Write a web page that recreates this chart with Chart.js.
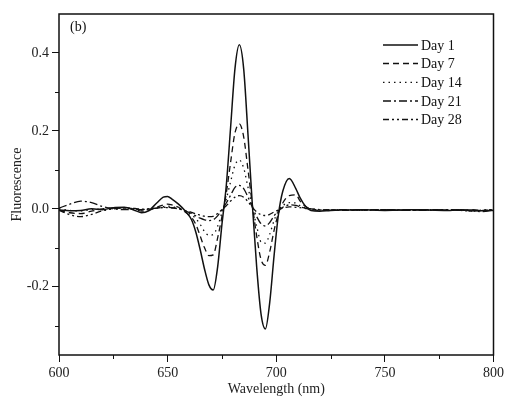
<!DOCTYPE html>
<html>
<head>
<meta charset="utf-8">
<script src="https://cdn.jsdelivr.net/npm/chart.js@4/dist/chart.umd.min.js"></script>
<style>
  html, body { margin: 0; padding: 0; background: #fff; }
  #wrap { width: 507px; height: 399px; }
</style>
</head>
<body>
<div id="wrap"><canvas id="fluoChart" width="507" height="399"></canvas></div>
<script>
// ── 資料 ───────────────────────────────────────────────
const WAVELENGTHS = [
  600, 605, 610, 615, 620, 625, 630, 635, 638, 641, 645, 648, 650, 652, 655,
  658, 661, 663, 665, 667, 669, 671, 673, 675, 677, 679, 681, 683, 685, 687,
  689, 691, 693, 695, 697, 699, 701, 703, 706, 709, 711, 713,
  716, 720, 725, 730, 740, 750, 760, 770, 780, 785, 790, 795, 800,
];

const DAY1 = [
  -0.003, -0.005, -0.004, 0.000, -0.002, 0.003, 0.004, -0.004, -0.010, -0.006, 0.015, 0.030, 0.032, 0.025, 0.012,
  -0.005, -0.028, -0.060, -0.105, -0.155, -0.195, -0.208, -0.150, -0.040, 0.060, 0.210, 0.360, 0.421, 0.360, 0.190,
  0.010, -0.150, -0.270, -0.308, -0.240, -0.120, -0.015, 0.045, 0.078, 0.052, 0.028, 0.010,
  -0.004, -0.006, -0.004, -0.003, -0.002, -0.004, -0.002, -0.003, -0.004, -0.002, -0.003, -0.005, -0.004,
];

const DAY7 = [
  -0.004, -0.010, -0.012, -0.006, 0.000, 0.002, 0.003, -0.002, -0.006, -0.004, 0.004, 0.010, 0.012, 0.010, 0.004,
  -0.008, -0.022, -0.040, -0.070, -0.100, -0.120, -0.118, -0.075, -0.020, 0.040, 0.120, 0.195, 0.218, 0.185, 0.100,
  0.010, -0.070, -0.130, -0.145, -0.110, -0.055, -0.012, 0.015, 0.034, 0.036, 0.020, 0.008,
  0.000, -0.004, -0.003, -0.004, -0.002, -0.003, -0.004, -0.002, -0.003, -0.004, -0.002, -0.004, -0.003,
];

const DAY14 = [
  0.000, -0.004, -0.005, -0.002, 0.000, 0.002, 0.002, 0.000, -0.003, -0.002, 0.003, 0.006, 0.007, 0.005, 0.002,
  -0.006, -0.015, -0.025, -0.040, -0.058, -0.068, -0.066, -0.045, -0.010, 0.025, 0.070, 0.112, 0.125, 0.105, 0.055,
  0.005, -0.045, -0.085, -0.088, -0.065, -0.030, -0.005, 0.008, 0.016, 0.015, 0.008, 0.003,
  0.000, -0.003, -0.002, -0.003, -0.004, -0.002, -0.003, -0.002, -0.004, -0.003, -0.006, -0.004, -0.002,
];

const DAY21 = [
  0.002, 0.012, 0.020, 0.016, 0.006, 0.000, -0.002, -0.001, -0.002, 0.000, 0.002, 0.004, 0.004, 0.003, 0.000,
  -0.005, -0.012, -0.018, -0.024, -0.028, -0.030, -0.028, -0.018, -0.002, 0.015, 0.035, 0.055, 0.060, 0.052, 0.030,
  0.004, -0.020, -0.038, -0.044, -0.035, -0.018, -0.005, 0.004, 0.010, 0.009, 0.005, 0.002,
  0.000, -0.002, -0.003, -0.002, -0.003, -0.002, -0.003, -0.004, -0.002, -0.003, -0.005, -0.007, -0.003,
];

const DAY28 = [
  -0.004, -0.015, -0.020, -0.014, -0.005, 0.000, 0.002, 0.001, -0.001, 0.000, 0.002, 0.003, 0.003, 0.002, 0.000,
  -0.004, -0.009, -0.013, -0.016, -0.019, -0.020, -0.019, -0.012, -0.002, 0.008, 0.020, 0.030, 0.034, 0.030, 0.018,
  0.004, -0.008, -0.015, -0.017, -0.014, -0.008, -0.003, 0.002, 0.005, 0.004, 0.003, 0.001,
  0.000, -0.003, -0.002, -0.004, -0.003, -0.002, -0.004, -0.003, -0.002, -0.004, -0.006, -0.003, -0.002,
];

const SERIES_LABELS = ["Day 1", "Day 7", "Day 14", "Day 21", "Day 28"];
const X_TICKS  = [600, 650, 700, 750, 800];
const X_MINOR  = [625, 675, 725, 775];
const Y_TICKS  = [-0.2, 0.0, 0.2, 0.4];
const Y_MINOR  = [-0.3, -0.1, 0.1, 0.3];

// ── 樣式 ───────────────────────────────────────────────
const FONT   = "'Liberation Serif', 'DejaVu Serif', serif";
const INK    = "#111";
const DASHES = [
  [],                    // Day 1  實線
  [6, 4],                // Day 7  虛線
  [1.5, 4],              // Day 14 點線
  [8, 3, 2, 3],          // Day 21 點劃線
  [6, 3, 2, 3, 2, 3],    // Day 28 雙點劃線
];

const toPoints = ys => WAVELENGTHS.map((x, i) => ({ x, y: ys[i] }));

// 外框、次刻度、(b)、圖例
const decorPlugin = {
  id: "decor",
  afterDraw(chart) {
    const { ctx, chartArea: a, scales: { x, y } } = chart;
    ctx.save();
    ctx.strokeStyle = INK;
    ctx.lineWidth = 1.5;
    ctx.setLineDash([]);
    ctx.strokeRect(a.left, a.top, a.right - a.left, a.bottom - a.top);

    ctx.lineWidth = 1;
    ctx.beginPath();
    X_MINOR.forEach(v => {
      const px = Math.round(x.getPixelForValue(v)) + 0.5;
      ctx.moveTo(px, a.bottom); ctx.lineTo(px, a.bottom + 4);
    });
    Y_MINOR.forEach(v => {
      const py = Math.round(y.getPixelForValue(v)) + 0.5;
      ctx.moveTo(a.left - 4, py); ctx.lineTo(a.left, py);
    });
    ctx.stroke();

    ctx.fillStyle = INK;
    ctx.font = `14px ${FONT}`;
    ctx.textBaseline = "middle";
    ctx.textAlign = "left";
    ctx.fillText("(b)", a.left + 11, a.top + 13);

    // 圖例
    const x0 = 383, x1 = 418, rowY = [45, 63.5, 82.3, 101, 119.5];
    chart.data.datasets.forEach((ds, i) => {
      ctx.beginPath();
      ctx.lineWidth = ds.borderWidth;
      ctx.setLineDash(ds.borderDash);
      ctx.moveTo(x0, rowY[i]); ctx.lineTo(x1, rowY[i]);
      ctx.stroke();
      ctx.setLineDash([]);
      ctx.fillText(ds.label, x1 + 3, rowY[i] + 1);
    });
    ctx.restore();
  },
};

new Chart(document.getElementById("fluoChart").getContext("2d"), {
  type: "line",
  data: {
    datasets: [DAY1, DAY7, DAY14, DAY21, DAY28].map((ys, i) => ({
      label: SERIES_LABELS[i],
      data: toPoints(ys),
      borderColor: INK,
      borderWidth: i === 0 ? 1.5 : 1.3,
      borderDash: DASHES[i],
      pointRadius: 0,
      fill: false,
      cubicInterpolationMode: "monotone",
    })),
  },
  options: {
    responsive: false,
    animation: false,
    layout: { padding: { top: 14, right: 13, left: 0, bottom: 0 } },
    plugins: {
      legend: { display: false },
      tooltip: { enabled: false },
    },
    scales: {
      x: {
        type: "linear",
        min: 600, max: 800,
        afterBuildTicks: s => { s.ticks = X_TICKS.map(value => ({ value })); },
        afterFit: s => { s.height = 44; },
        grid: { drawOnChartArea: false, tickLength: 7, color: INK, lineWidth: 1 },
        border: { display: false },
        ticks: { color: "#222", font: { family: FONT, size: 14 }, padding: 3, maxRotation: 0 },
        title: { display: true, text: "Wavelength (nm)", color: "#222",
                 font: { family: FONT, size: 14 }, padding: { top: 0, bottom: 1 } },
      },
      y: {
        min: -0.375, max: 0.5,
        afterBuildTicks: s => { s.ticks = Y_TICKS.map(value => ({ value })); },
        afterFit: s => { s.width = 59; },
        grid: { drawOnChartArea: false, tickLength: 7, color: INK, lineWidth: 1 },
        border: { display: false },
        ticks: { color: "#222", font: { family: FONT, size: 14 }, padding: 3,
                 callback: v => v.toFixed(1) },
        title: { display: true, text: "Fluorescence", color: "#222",
                 font: { family: FONT, size: 14 }, padding: { top: 9, bottom: 0 } },
      },
    },
  },
  plugins: [decorPlugin],
});
</script>
</body>
</html>
